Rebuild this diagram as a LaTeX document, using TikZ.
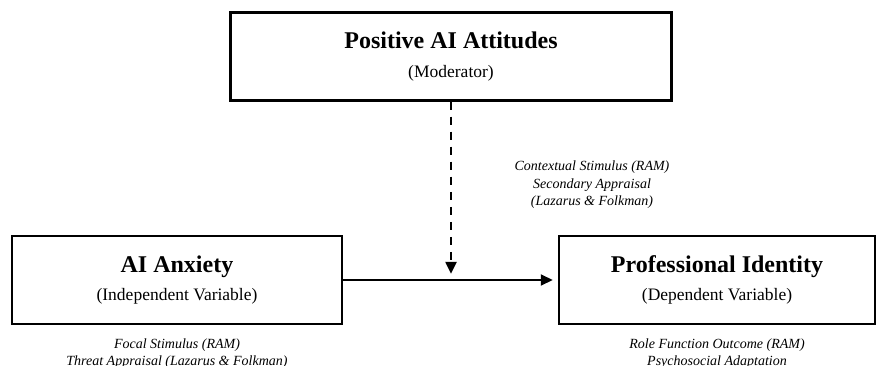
\documentclass[tikz,border=0pt]{standalone}
\usepackage{fontspec}
\setmainfont{Liberation Serif}
\usepackage{tikz}
\usetikzlibrary{arrows.meta,positioning}

\begin{document}
\begin{tikzpicture}[x=1pt, y=-1pt,
  box/.style={draw, line width=2.5pt, minimum height=88pt, inner sep=0pt, align=center, font=\fontsize{17.5}{28.5}\selectfont},
  note/.style={align=center, inner sep=0pt, font=\itshape\fontsize{14}{17.5}\selectfont},
  arr/.style={-{Triangle[length=12pt, width=11pt]}, line width=2pt}
]
  \path[use as bounding box, clip] (0,0) rectangle (877,366);

  \node[box, minimum width=441pt] (att) at (451,56.5) {{\bfseries\fontsize{24}{28.5}\selectfont Positive AI Attitudes}\\(Moderator)};
  \node[box, minimum width=330pt] (anx) at (177,280) {{\bfseries\fontsize{24}{28.5}\selectfont AI Anxiety}\\(Independent Variable)};
  \node[box, minimum width=316pt] (pid) at (717,280) {{\bfseries\fontsize{24}{28.5}\selectfont Professional Identity}\\(Dependent Variable)};

  \coordinate[below=172pt of att] (meet);

  \node[note, anchor=north] (ctx) at (592,161) {Contextual Stimulus (RAM)\\Secondary Appraisal\\(Lazarus \& Folkman)};
  \node[note, below=13pt of anx] (foc) {Focal Stimulus (RAM)\\Threat Appraisal (Lazarus \& Folkman)};
  \node[note, below=13pt of pid] (rfo) {Role Function Outcome (RAM)\\Psychosocial Adaptation};

  \draw[arr, line width=2.5pt, dash pattern=on 8pt off 7pt] (att) -- (meet);
  \draw[arr, shorten >=5pt] (anx) -- (pid);
\end{tikzpicture}
\end{document}
